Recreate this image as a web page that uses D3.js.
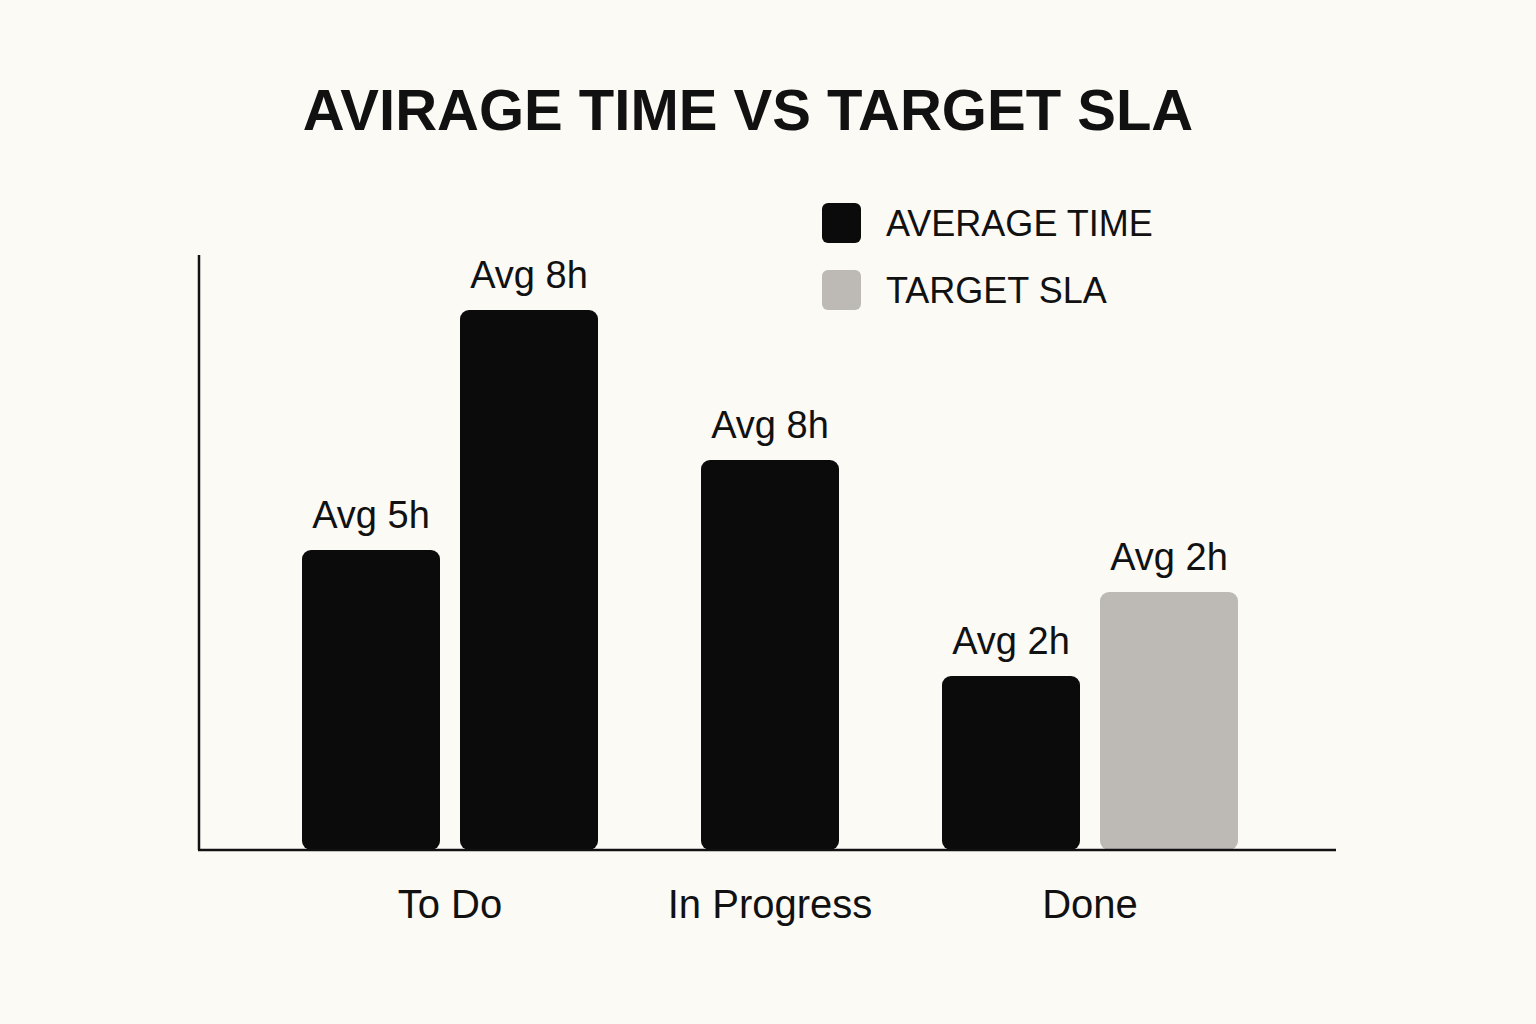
<!DOCTYPE html>
<html>
<head>
<meta charset="utf-8">
<script src="https://cdn.jsdelivr.net/npm/d3@7"></script>
<style>
  body { margin: 0; background: #fbfaf5; }
  text { font-family: "Liberation Sans", Arial, sans-serif; fill: #111; }
</style>
</head>
<body>
<svg id="chart" width="1536" height="1024"></svg>
<script>
// categories and series
var categories = ["To Do", "In Progress", "Done"];
var series = ["AVERAGE TIME", "TARGET SLA"];
var seriesColors = ["#0b0b0b", "#bdbab6"];

// bars as drawn (heights, labels as printed)
var barCategory = ["To Do", "To Do", "In Progress", "Done", "Done"];
var barSeries   = ["AVERAGE TIME", "AVERAGE TIME", "AVERAGE TIME", "AVERAGE TIME", "TARGET SLA"];
var barValues   = [5.0, 9.0, 6.5, 2.9, 4.3];
var barLabels   = ["Avg 5h", "Avg 8h", "Avg 8h", "Avg 2h", "Avg 2h"];

var svg = d3.select("#chart");
svg.append("rect").attr("width", 1536).attr("height", 1024).attr("fill", "#fbfaf5");

var baseY = 850;
var y = d3.scaleLinear().domain([0, 10]).range([baseY, 250]);
var x = d3.scaleBand().domain(categories).range([290, 1250]);
var color = d3.scaleOrdinal().domain(series).range(seriesColors);

var barW = 138, gap = 20;

// work out each bar's x inside its category
var bars = barValues.map(function(v, i) {
  var cat = barCategory[i];
  var members = barCategory.map(function(c, j) { return c === cat ? j : -1; }).filter(function(j) { return j >= 0; });
  var k = members.indexOf(i);
  var total = members.length * barW + (members.length - 1) * gap;
  var x0 = x(cat) + x.bandwidth() / 2 - total / 2 + k * (barW + gap);
  return {x: x0, value: v, label: barLabels[i], series: barSeries[i]};
});

svg.append("text")
  .attr("x", 748).attr("y", 130)
  .attr("text-anchor", "middle")
  .style("font-size", "58px").style("font-weight", "bold")
  .text("AVIRAGE TIME VS TARGET SLA");

svg.selectAll("rect.bar").data(bars).enter().append("rect")
  .attr("class", "bar")
  .attr("x", function(d) { return d.x; })
  .attr("y", function(d) { return y(d.value); })
  .attr("width", barW)
  .attr("height", function(d) { return baseY - y(d.value); })
  .attr("rx", 9)
  .attr("fill", function(d) { return color(d.series); });

svg.selectAll("text.val").data(bars).enter().append("text")
  .attr("class", "val")
  .attr("x", function(d) { return d.x + barW / 2; })
  .attr("y", function(d) { return y(d.value) - 22; })
  .attr("text-anchor", "middle")
  .style("font-size", "38px")
  .text(function(d) { return d.label; });

// axes lines
svg.append("line").attr("x1", 199).attr("x2", 199).attr("y1", 255).attr("y2", baseY)
  .attr("stroke", "#111").attr("stroke-width", 2.5);
svg.append("line").attr("x1", 198).attr("x2", 1336).attr("y1", baseY).attr("y2", baseY)
  .attr("stroke", "#111").attr("stroke-width", 2.5);

svg.selectAll("text.cat").data(categories).enter().append("text")
  .attr("class", "cat")
  .attr("x", function(d) { return x(d) + x.bandwidth() / 2; })
  .attr("y", 918)
  .attr("text-anchor", "middle")
  .style("font-size", "40px")
  .text(function(d) { return d; });

// legend
var leg = svg.selectAll("g.leg").data(series).enter().append("g")
  .attr("class", "leg")
  .attr("transform", function(d, i) { return "translate(822," + (203 + i * 67) + ")"; });
leg.append("rect").attr("width", 39).attr("height", 40).attr("rx", 6)
  .attr("fill", function(d) { return color(d); });
leg.append("text").attr("x", 64).attr("y", 33)
  .style("font-size", "36px")
  .text(function(d) { return d; });
</script>
</body>
</html>
